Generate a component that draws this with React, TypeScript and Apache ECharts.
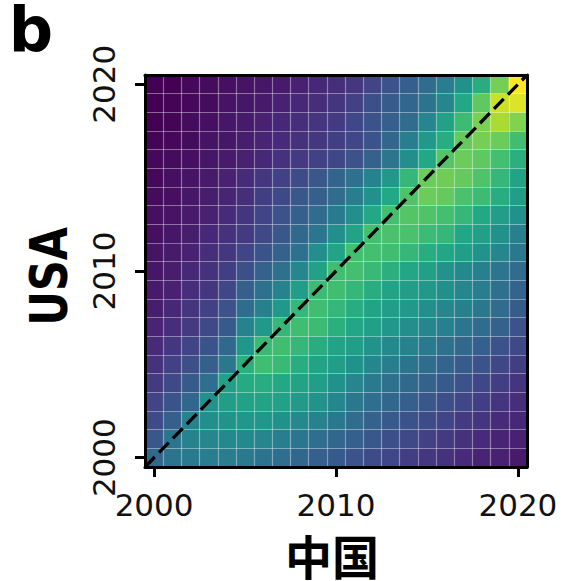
import React, { useEffect, useRef } from 'react';
import * as echarts from 'echarts';

// Categories (both axes): years 2000..2020
const years = [
  '2000', '2001', '2002', '2003', '2004', '2005', '2006', '2007', '2008', '2009', '2010',
  '2011', '2012', '2013', '2014', '2015', '2016', '2017', '2018', '2019', '2020',
];
const tickYears = ['2000', '2010', '2020'];

// Each row: USA year (y); values per 中国 year 2000..2020 (x), normalised 0..1
const row2020 = [0.00, 0.00, 0.02, 0.03, 0.04, 0.05, 0.06, 0.07, 0.09, 0.11, 0.13, 0.16, 0.20, 0.26, 0.30, 0.35, 0.42, 0.50, 0.62, 0.79, 1.00];
const row2019 = [0.00, 0.01, 0.02, 0.03, 0.05, 0.06, 0.07, 0.09, 0.11, 0.13, 0.15, 0.19, 0.24, 0.29, 0.33, 0.38, 0.46, 0.60, 0.75, 0.92, 0.95];
const row2018 = [0.00, 0.01, 0.03, 0.04, 0.06, 0.07, 0.09, 0.11, 0.13, 0.15, 0.17, 0.21, 0.26, 0.30, 0.35, 0.45, 0.57, 0.68, 0.80, 0.87, 0.81];
const row2017 = [0.01, 0.02, 0.03, 0.05, 0.06, 0.08, 0.10, 0.12, 0.14, 0.16, 0.18, 0.21, 0.26, 0.33, 0.42, 0.53, 0.62, 0.76, 0.79, 0.77, 0.69];
const row2016 = [0.02, 0.03, 0.04, 0.06, 0.07, 0.09, 0.11, 0.14, 0.17, 0.19, 0.21, 0.25, 0.31, 0.39, 0.49, 0.60, 0.73, 0.77, 0.75, 0.70, 0.63];
const row2015 = [0.02, 0.04, 0.05, 0.07, 0.09, 0.12, 0.16, 0.19, 0.23, 0.27, 0.32, 0.37, 0.44, 0.53, 0.66, 0.77, 0.78, 0.76, 0.72, 0.66, 0.58];
const row2014 = [0.03, 0.04, 0.06, 0.08, 0.10, 0.13, 0.18, 0.22, 0.27, 0.30, 0.35, 0.42, 0.50, 0.60, 0.72, 0.77, 0.76, 0.71, 0.68, 0.62, 0.55];
const row2013 = [0.04, 0.05, 0.07, 0.09, 0.12, 0.15, 0.20, 0.25, 0.30, 0.35, 0.41, 0.49, 0.60, 0.70, 0.73, 0.72, 0.70, 0.66, 0.60, 0.55, 0.50];
const row2012 = [0.04, 0.06, 0.08, 0.11, 0.14, 0.17, 0.22, 0.27, 0.34, 0.39, 0.49, 0.58, 0.70, 0.71, 0.71, 0.68, 0.66, 0.59, 0.56, 0.50, 0.43];
const row2011 = [0.05, 0.07, 0.09, 0.13, 0.16, 0.20, 0.26, 0.31, 0.37, 0.49, 0.58, 0.70, 0.70, 0.69, 0.66, 0.62, 0.59, 0.55, 0.51, 0.46, 0.40];
const row2010 = [0.06, 0.08, 0.11, 0.14, 0.18, 0.24, 0.31, 0.37, 0.46, 0.57, 0.69, 0.70, 0.67, 0.63, 0.59, 0.56, 0.51, 0.47, 0.43, 0.39, 0.35];
const row2009 = [0.07, 0.09, 0.13, 0.16, 0.21, 0.30, 0.37, 0.44, 0.55, 0.68, 0.69, 0.66, 0.62, 0.58, 0.55, 0.53, 0.49, 0.45, 0.42, 0.37, 0.32];
const row2008 = [0.08, 0.11, 0.15, 0.19, 0.25, 0.35, 0.43, 0.53, 0.66, 0.69, 0.66, 0.62, 0.58, 0.55, 0.53, 0.49, 0.46, 0.43, 0.40, 0.35, 0.29];
const row2007 = [0.10, 0.13, 0.17, 0.22, 0.28, 0.44, 0.53, 0.66, 0.69, 0.68, 0.63, 0.59, 0.56, 0.52, 0.49, 0.46, 0.43, 0.39, 0.35, 0.31, 0.25];
const row2006 = [0.12, 0.16, 0.20, 0.26, 0.34, 0.52, 0.67, 0.69, 0.66, 0.62, 0.58, 0.55, 0.51, 0.47, 0.44, 0.41, 0.37, 0.34, 0.30, 0.26, 0.22];
const row2005 = [0.14, 0.19, 0.24, 0.30, 0.40, 0.63, 0.69, 0.67, 0.62, 0.58, 0.55, 0.50, 0.46, 0.42, 0.38, 0.35, 0.32, 0.29, 0.25, 0.21, 0.18];
const row2004 = [0.17, 0.22, 0.28, 0.36, 0.56, 0.61, 0.62, 0.60, 0.58, 0.55, 0.50, 0.45, 0.41, 0.37, 0.34, 0.31, 0.28, 0.25, 0.21, 0.18, 0.15];
const row2003 = [0.20, 0.26, 0.33, 0.50, 0.55, 0.57, 0.58, 0.57, 0.54, 0.51, 0.46, 0.40, 0.36, 0.33, 0.30, 0.27, 0.24, 0.21, 0.18, 0.15, 0.13];
const row2002 = [0.23, 0.30, 0.44, 0.49, 0.51, 0.52, 0.52, 0.50, 0.47, 0.44, 0.40, 0.35, 0.31, 0.28, 0.26, 0.23, 0.20, 0.17, 0.15, 0.12, 0.11];
const row2001 = [0.27, 0.39, 0.44, 0.46, 0.47, 0.47, 0.45, 0.42, 0.39, 0.36, 0.33, 0.30, 0.27, 0.24, 0.22, 0.19, 0.17, 0.14, 0.12, 0.10, 0.09];
const row2000 = [0.34, 0.38, 0.41, 0.42, 0.42, 0.41, 0.38, 0.36, 0.33, 0.30, 0.28, 0.25, 0.23, 0.21, 0.18, 0.16, 0.14, 0.12, 0.10, 0.09, 0.07];

const rowsBottomUp = [
  row2000, row2001, row2002, row2003, row2004, row2005, row2006, row2007, row2008, row2009, row2010,
  row2011, row2012, row2013, row2014, row2015, row2016, row2017, row2018, row2019, row2020,
];

// Dashed diagonal, corner to corner (band edges)
const diagonalX = [1999.5, 2020.5];
const diagonalY = [1999.5, 2020.5];

const viridis = [
  '#440154', '#482475', '#414487', '#355f8d', '#2a788e', '#21918c',
  '#22a884', '#44bf70', '#7ad151', '#bddf26', '#fde725',
];

export default function App() {
  const ref = useRef<HTMLDivElement>(null);

  useEffect(() => {
    if (!ref.current) return;
    const chart = echarts.init(ref.current, undefined, { renderer: 'svg' });

    const heatData: [number, number, number][] = [];
    rowsBottomUp.forEach((row, yi) => {
      row.forEach((v, xi) => heatData.push([xi, yi, v]));
    });
    const lineData = diagonalX.map((x, i) => [x, diagonalY[i]]);

    const frame = { color: '#000', width: 3 };
    const showTick = (_i: number, v: string) => tickYears.includes(v);
    const gridLine = { color: 'rgba(255,255,255,0.38)', width: 1.2 };

    const option: any = {
      animation: false,
      grid: { left: 145, top: 75, width: 382, height: 392, containLabel: false },
      visualMap: {
        show: false, min: 0, max: 1, dimension: 2, seriesIndex: 0,
        inRange: { color: viridis },
      },
      xAxis: [
        {
          type: 'category', data: years, position: 'bottom', z: 5,
          axisLine: { show: true, onZero: false, lineStyle: frame },
          axisTick: { show: true, alignWithLabel: true, length: 10, interval: showTick, lineStyle: frame },
          axisLabel: { interval: showTick, fontSize: 31, fontFamily: 'DejaVu Sans', color: '#111', margin: 22 },
          splitLine: { show: true, interval: 0, lineStyle: gridLine },
        },
        {
          type: 'value', min: 1999.5, max: 2020.5, position: 'top', z: 5,
          axisLine: { show: true, onZero: false, lineStyle: frame },
          axisTick: { show: false }, axisLabel: { show: false }, splitLine: { show: false },
        },
      ],
      yAxis: [
        {
          type: 'category', data: years, position: 'left', z: 5,
          axisLine: { show: true, onZero: false, lineStyle: frame },
          axisTick: { show: true, alignWithLabel: true, length: 10, interval: showTick, lineStyle: frame },
          axisLabel: { interval: showTick, rotate: 90, fontSize: 31, fontFamily: 'DejaVu Sans', color: '#111', margin: 26 },
          splitLine: { show: true, interval: 0, lineStyle: gridLine },
        },
        {
          type: 'value', min: 1999.5, max: 2020.5, position: 'right', z: 5,
          axisLine: { show: true, onZero: false, lineStyle: frame },
          axisTick: { show: false }, axisLabel: { show: false }, splitLine: { show: false },
        },
      ],
      series: [
        {
          type: 'heatmap', xAxisIndex: 0, yAxisIndex: 0, data: heatData, z: 2,
          emphasis: { disabled: true },
        },
        {
          type: 'line', xAxisIndex: 1, yAxisIndex: 1, data: lineData, z: 10,
          symbol: 'none', silent: true,
          lineStyle: { color: '#000', width: 3.3, type: [14, 6] },
        },
      ],
      graphic: [
        {
          type: 'text', x: 31, y: 29, z: 20,
          style: {
            text: 'b', fill: '#000', font: 'bold 62px "DejaVu Sans"', lineHeight: 50,
            textAlign: 'center', textVerticalAlign: 'middle',
          },
        },
        {
          type: 'text', x: 49.5, y: 276.5, rotation: Math.PI / 2, scaleX: 0.84, z: 20,
          style: {
            text: 'USA', fill: '#000', font: 'bold 51px "DejaVu Sans"',
            textAlign: 'center', textVerticalAlign: 'middle',
          },
        },
        {
          type: 'text', x: 332, y: 554, z: 20,
          style: {
            text: '中国', fill: '#000', font: 'bold 47px "Noto Sans CJK SC"', lineHeight: 46,
            textAlign: 'center', textVerticalAlign: 'middle',
          },
        },
      ],
    };

    chart.setOption(option);
    return () => chart.dispose();
  }, []);

  return (
    <div
      ref={ref}
      style={{ position: 'absolute', left: 0, top: 0, width: 564, height: 581, background: '#fff' }}
    />
  );
}
